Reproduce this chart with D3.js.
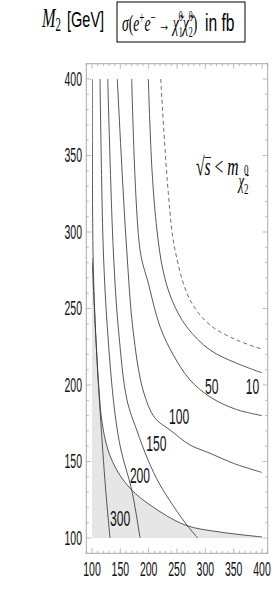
<!DOCTYPE html>
<html>
<head>
<meta charset="utf-8">
<script src="https://cdn.jsdelivr.net/npm/d3@7"></script>
<style>
  body { margin: 0; background: #fff; }
</style>
</head>
<body>
<div id="grafico"></div>
<script>
// valores: [mu, M2] en GeV
const ticks = [100, 150, 200, 250, 300, 350, 400];

const limiteLEP = [[100.1, 283], [103.6, 255.6], [108, 222.9], [112.4, 196.7], [117.2, 177.1],
  [128.3, 157.5], [145.9, 143.1], [170.1, 131.4], [202.4, 121.6], [264.2, 108.5], [325.9, 103.9], [400, 100.7]];

const curva300 = [[100.6, 400], [101.8, 288.3], [106.2, 236], [114.2, 183.7], [124.2, 131.4], [131.8, 100]];
const curva200 = [[114.2, 400], [120, 288.3], [127.4, 236], [139.8, 183.7], [151.2, 157.5], [170.1, 131.4], [184.8, 100]];
const curva150 = [[127.8, 400], [137.6, 288.3], [146.8, 236], [161.8, 190.2], [178.9, 170.6], [198.9, 151],
  [220.1, 134.7], [265.9, 109.2], [286.6, 100]];
const curva100 = [[144.7, 400], [153, 340.4], [161.3, 288.3], [172.4, 236], [190.1, 196.7], [211.2, 178.4],
  [237.7, 170.6], [273, 160.8], [308.3, 155.4], [349.4, 148.8], [399.5, 142.9]];
const curva50 = [[170.1, 400], [184.8, 288.3], [199.4, 266.5], [220.1, 238.1], [243.5, 219.6], [273, 203.3],
  [308.3, 192.2], [352.4, 184.3], [399.5, 180]];
const curva10 = [[199.4, 400], [205.9, 340.4], [214.7, 301.1], [225.3, 275], [241.2, 255.4], [267.1, 238],
  [308.3, 222.9], [355.4, 214.2], [399.5, 208]];
const limiteCinematico = [[221.3, 400], [234.7, 325.3], [246.5, 288.3], [273, 255.6], [308.3, 239.2],
  [355.4, 229.4], [399.5, 223.5]];

const etiquetas = [
  { texto: "10", mu: 383.3, m2: 198.9 },
  { texto: "50", mu: 311.3, m2: 198.9 },
  { texto: "100", mu: 253.6, m2: 179.3 },
  { texto: "150", mu: 213.5, m2: 161.9 },
  { texto: "200", mu: 184.7, m2: 140.7 },
  { texto: "300", mu: 149.5, m2: 112.9 }
];

const ancho = 280, alto = 605;
const svg = d3.select("#grafico").append("svg")
  .attr("width", ancho)
  .attr("height", alto);

const x = d3.scaleLinear().domain([90, 410]).range([86.3, 267.7]);
const y = d3.scaleLinear().domain([90, 410]).range([553.3, 63.7]);

const fuenteSans = "'Liberation Sans', Arial, sans-serif";
const fuenteSerif = "'Liberation Serif', 'Times New Roman', serif";

// texto comprimido horizontalmente como en la figura original
function textoAngosto(px, py, str, anchor, size, sx) {
  const g = svg.append("g").attr("transform", `translate(${px},${py})`);
  return g.append("text")
    .attr("transform", `scale(${sx},1)`)
    .attr("text-anchor", anchor)
    .attr("dominant-baseline", "central")
    .attr("font-family", fuenteSans)
    .attr("font-size", size)
    .attr("fill", "#111")
    .text(str);
}

// texto de formula sobre su linea base, las partes van como tspan
function formula(px, base, sx, size, familia) {
  return svg.append("g").attr("transform", `translate(${px},${base})`)
    .append("text")
    .attr("transform", `scale(${sx},1)`)
    .attr("font-family", familia)
    .attr("font-size", size)
    .attr("fill", "#000");
}

function parte(t, str, opc) {
  const s = t.append("tspan").text(str);
  if (opc.italica) s.attr("font-style", "italic");
  if (opc.size) s.attr("font-size", opc.size);
  if (opc.dx) s.attr("dx", opc.dx);
  if (opc.dy) s.attr("dy", opc.dy);
  return s;
}

svg.append("clipPath").attr("id", "recorte")
  .append("rect")
  .attr("x", x(100)).attr("y", y(400))
  .attr("width", x(400) - x(100)).attr("height", y(100) - y(400));

const zona = svg.append("g").attr("clip-path", "url(#recorte)");

const linea = d3.line()
  .x(d => x(d[0]))
  .y(d => y(d[1]))
  .curve(d3.curveCatmullRom.alpha(0.5));

// region excluida (gris)
zona.append("path")
  .attr("d", `M${x(100)},${y(100)}L` + linea(limiteLEP).slice(1) + `L${x(400)},${y(100)}Z`)
  .attr("fill", "#e6e6e6");

[curva300, curva200, curva150, curva100, curva50, curva10, limiteLEP].forEach(c => {
  zona.append("path")
    .attr("d", linea(c))
    .attr("fill", "none")
    .attr("stroke", "#3a3a3a")
    .attr("stroke-width", 0.85);
});

zona.append("path")
  .attr("d", linea(limiteCinematico))
  .attr("fill", "none")
  .attr("stroke", "#555")
  .attr("stroke-width", 0.85)
  .attr("stroke-dasharray", "4,3");

// marco con marcas hacia adentro
svg.append("rect")
  .attr("x", x(90)).attr("y", y(410))
  .attr("width", x(410) - x(90)).attr("height", y(90) - y(410))
  .attr("fill", "none")
  .attr("stroke", "#aaa")
  .attr("stroke-width", 1);

const menores = d3.range(90, 411, 10);
const marcas = svg.append("g").attr("stroke", "#aaa").attr("stroke-width", 0.8);
menores.forEach(v => {
  const largo = v % 50 === 0 ? 5 : 2.5;
  marcas.append("line").attr("x1", x(v)).attr("x2", x(v)).attr("y1", y(90)).attr("y2", y(90) - largo);
  marcas.append("line").attr("x1", x(v)).attr("x2", x(v)).attr("y1", y(410)).attr("y2", y(410) + largo);
  marcas.append("line").attr("y1", y(v)).attr("y2", y(v)).attr("x1", x(90)).attr("x2", x(90) + largo);
  marcas.append("line").attr("y1", y(v)).attr("y2", y(v)).attr("x1", x(410)).attr("x2", x(410) - largo);
});

ticks.forEach(v => {
  textoAngosto(x(v), 569, String(v), "middle", 21, 0.5);
  textoAngosto(82, y(v), String(v), "end", 21, 0.5);
});

etiquetas.forEach(e => {
  textoAngosto(x(e.mu), y(e.m2), e.texto, "middle", 22, 0.55);
});

// encabezado: M2 [GeV]
const tM = formula(42, 27, 0.6, 27, fuenteSerif);
parte(tM, "M", { italica: true });
parte(tM, "2", { size: 18, dy: 4 });
formula(67, 27, 0.66, 22, fuenteSans).text("[GeV]");

// caja con la seccion eficaz
svg.append("rect")
  .attr("x", 117).attr("y", 2).attr("width", 128).attr("height", 40)
  .attr("fill", "#fff").attr("stroke", "#000").attr("stroke-width", 1);

const tCaja = formula(122, 31, 0.57, 24, fuenteSerif);
parte(tCaja, "σ", { italica: true });
parte(tCaja, "(", {});
parte(tCaja, "e", { italica: true });
parte(tCaja, "+", { size: 16, dy: -8 });
parte(tCaja, "e", { italica: true, dy: 8 });
parte(tCaja, "−", { size: 16, dy: -8 });
parte(tCaja, " → ", { size: 20, dy: 8 });
parte(tCaja, "χ\u0303", { italica: true });
parte(tCaja, "0", { size: 14, dy: -10 });
parte(tCaja, "1", { size: 14, dx: -7, dy: 16 });
parte(tCaja, "χ\u0303", { italica: true, dy: -6 });
parte(tCaja, "0", { size: 14, dy: -10 });
parte(tCaja, "2", { size: 14, dx: -7, dy: 16 });
parte(tCaja, ")", { dy: -6 });
formula(205, 31, 0.68, 23, fuenteSans).text("in fb");

// anotacion del limite cinematico
const tAnot = formula(196, 175, 0.6, 26, fuenteSerif);
parte(tAnot, "√", {});
parte(tAnot, "s", { italica: true });
parte(tAnot, " < ", {});
parte(tAnot, "m", { italica: true });
parte(tAnot, "χ\u0303", { italica: true, size: 21, dy: 13 });
parte(tAnot, "0", { size: 15, dy: -13 });
parte(tAnot, "2", { size: 15, dx: -7.5, dy: 19 });
svg.append("line")
  .attr("x1", 204.5).attr("x2", 211).attr("y1", 157.5).attr("y2", 157.5)
  .attr("stroke", "#000").attr("stroke-width", 0.9);
</script>
</body>
</html>
